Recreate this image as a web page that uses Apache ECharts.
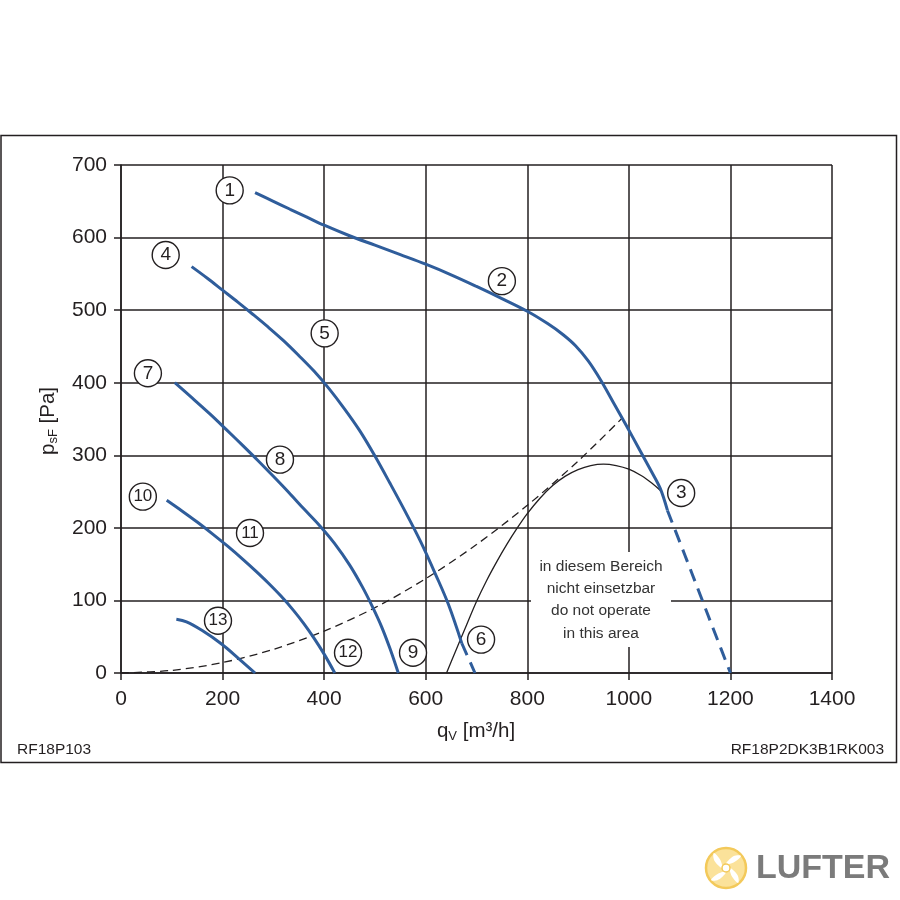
<!DOCTYPE html>
<html>
<head>
<meta charset="utf-8">
<script src="https://cdn.jsdelivr.net/npm/echarts@6/dist/echarts.min.js"></script>
<style>html,body{margin:0;padding:0;background:#fff}#c{width:900px;height:900px}</style>
</head>
<body>
<div id="c"></div>
<script>
// ---- data ----
var xTicks = [0, 200, 400, 600, 800, 1000, 1200, 1400];
var yTicks = [0, 100, 200, 300, 400, 500, 600, 700];

// curve 1-2-3 (solid part)
var c1x = [264, 300, 333, 365, 400, 450, 500, 550, 600, 650, 700, 750, 800, 840, 870, 895, 920, 945, 970, 995, 1020, 1045, 1062, 1076];
var c1y = [662, 650, 639, 628.5, 617, 602.5, 589.5, 576.5, 563.3, 548.7, 532.7, 516, 498.5, 481.5, 466.5, 451, 430, 403, 372, 341, 309, 277, 254, 224];
// curve 3 dashed continuation
var c1dx = [1076, 1110, 1140, 1170, 1200];
var c1dy = [224, 163, 108.5, 54, 0];
// curve 4-5-6
var c4x = [139, 170, 200, 230, 260, 290, 320, 350, 380, 410, 440, 470, 500, 530, 560, 590, 620, 645, 671];
var c4y = [560, 544, 527.5, 511, 494, 476.5, 458, 437.5, 416, 391.5, 364, 334, 299, 261, 222, 181, 135, 94, 41];
var c4dx = [671, 697];
var c4dy = [41, 0];
// curve 7-8-9
var c7x = [106, 140, 175, 208, 240, 270, 300, 330, 360, 390, 420, 450, 475, 495, 513, 530, 546];
var c7y = [400, 379, 357, 335, 313.3, 292.5, 271, 249, 226.2, 204, 179, 149, 119, 91.5, 64, 33, 0];
// curve 10-11-12
var c10x = [90, 120, 150, 180, 210, 240, 265, 290, 315, 340, 360, 380, 400, 421];
var c10y = [238, 223.3, 208, 191.8, 174.7, 156.6, 140.7, 124, 106, 86, 68, 48, 26, 0];
// curve 13
var c13x = [109, 129, 160, 198, 230, 264];
var c13y = [74, 70.5, 58.5, 40, 21, 0];
// system characteristic (dashed black)
var sysX = [0, 100, 200, 300, 400, 500, 600, 700, 800, 900, 988];
var sysY = [0, 3.6, 14.4, 32.5, 57.8, 90, 130, 177, 231, 292, 352];
// operating limit (solid black)
var limX = [641, 660, 680, 700, 720, 740, 760, 780, 800, 825, 850, 875, 900, 925, 950, 975, 1000, 1025, 1045, 1062];
var limY = [0, 32, 65.5, 98.5, 127.5, 153.5, 177.5, 199.5, 219.5, 240.8, 258.3, 271.3, 280.3, 285.8, 287.8, 285.8, 280.8, 271.8, 261.8, 251.6];
// circled point labels
var lblNum = ['1', '2', '3', '4', '5', '6', '7', '8', '9', '10', '11', '12', '13'];
var lblX = [214, 750, 1103, 88, 401, 709, 53, 313, 575, 43, 254, 447, 191];
var lblY = [665, 540, 248, 576, 468, 46, 413, 294, 28, 243, 193, 28, 72];

function pairs(xs, ys) { return xs.map(function (x, i) { return [x, ys[i]]; }); }

var BLUE = '#2f5d9b';
var INK = '#231f20';
var FONT = '"Liberation Sans", Arial, Helvetica, sans-serif';

var chart = echarts.init(document.getElementById('c'), null, {renderer: 'canvas'});

function blue(data, dashed) {
  return {
    type: 'line', data: data, smooth: 0.35, symbol: 'none', z: 3,
    lineStyle: {color: BLUE, width: 3, type: dashed ? [13, 8] : 'solid', cap: 'butt'},
    silent: true, animation: false
  };
}

var bladePts = [[0, -4], [5, -10], [10, -12.5], [15, -12], [10, -7], [5, -4.5]];
function blade(rot) {
  return {type: 'polygon', rotation: rot, shape: {points: bladePts, smooth: 0.4}, style: {fill: '#fff'}};
}

var option = {
  animation: false,
  backgroundColor: '#fff',
  grid: {left: 121, right: 68, top: 165, bottom: 227, containLabel: false},
  xAxis: {
    type: 'value', min: 0, max: 1400, interval: 200,
    axisLine: {show: true, lineStyle: {color: INK, width: 1.5}},
    axisTick: {show: true, length: 7, lineStyle: {color: INK, width: 1.5}},
    axisLabel: {color: INK, fontSize: 21, fontFamily: FONT, margin: 16,
      formatter: function (v) { return xTicks.indexOf(v) >= 0 ? String(v) : ''; }},
    splitLine: {show: true, lineStyle: {color: INK, width: 1.5}}
  },
  yAxis: {
    type: 'value', min: 0, max: 700, interval: 100,
    axisLine: {show: true, lineStyle: {color: INK, width: 1.5}},
    axisTick: {show: true, length: 7, lineStyle: {color: INK, width: 1.5}},
    axisLabel: {color: INK, fontSize: 21, fontFamily: FONT, margin: 14,
      formatter: function (v) { return yTicks.indexOf(v) >= 0 ? String(v) : ''; }},
    splitLine: {show: true, lineStyle: {color: INK, width: 1.5}}
  },
  series: [
    {type: 'line', data: pairs(sysX, sysY), smooth: 0.3, symbol: 'none', z: 2,
      lineStyle: {color: INK, width: 1.3, type: [8, 5]}, silent: true},
    {type: 'line', data: pairs(limX, limY), smooth: 0.35, symbol: 'none', z: 2,
      lineStyle: {color: INK, width: 1.3}, silent: true},
    blue(pairs(c1x, c1y)),
    blue(pairs(c1dx, c1dy), true),
    blue(pairs(c4x, c4y)),
    blue(pairs(c4dx, c4dy), true),
    blue(pairs(c7x, c7y)),
    blue(pairs(c10x, c10y)),
    blue(pairs(c13x, c13y)),
    {type: 'scatter', z: 6, symbol: 'circle', symbolSize: 27, silent: true,
      data: lblX.map(function (x, i) { return {value: [x, lblY[i]], name: lblNum[i]}; }),
      itemStyle: {color: '#fff', borderColor: INK, borderWidth: 1.4, opacity: 1},
      label: {show: true, position: 'inside', color: INK, fontFamily: FONT,
        formatter: function (p) { return p.name.length > 1 ? '{n|' + p.name + '}' : '{w|' + p.name + '}'; },
        rich: {w: {fontSize: 19, fontFamily: FONT, color: INK},
               n: {fontSize: 17, fontFamily: FONT, color: INK}}}}
  ],
  graphic: [
    {type: 'rect', z: 100, silent: true,
      shape: {x: 1, y: 135.5, width: 895.5, height: 627},
      style: {fill: 'none', stroke: INK, lineWidth: 1.5}},
    {type: 'rect', z: 50, silent: true,
      shape: {x: 531, y: 552, width: 140, height: 95},
      style: {fill: '#fff'}},
    {type: 'text', z: 51, silent: true, x: 601, y: 600,
      style: {text: 'in diesem Bereich\nnicht einsetzbar\ndo not operate\nin this area',
        fill: '#333', font: '15.5px ' + FONT, align: 'center', verticalAlign: 'middle', lineHeight: 22.3}},
    {type: 'text', z: 51, silent: true, x: 476, y: 731,
      style: {text: '{p|q}{s|V}{p| [m³/h]}', align: 'center', verticalAlign: 'middle',
        rich: {p: {fontSize: 20.5, fontFamily: FONT, fill: INK, color: INK},
               s: {fontSize: 13, fontFamily: FONT, fill: INK, color: INK, padding: [10, 0, 0, 0]}}}},
    {type: 'text', z: 51, silent: true, x: 48, y: 421, rotation: Math.PI / 2,
      style: {text: '{p|p}{s|sF}{p| [Pa]}', align: 'center', verticalAlign: 'middle',
        rich: {p: {fontSize: 20.5, fontFamily: FONT, fill: INK, color: INK},
               s: {fontSize: 13, fontFamily: FONT, fill: INK, color: INK, padding: [10, 0, 0, 0]}}}},
    {type: 'text', z: 51, silent: true, x: 17, y: 750,
      style: {text: 'RF18P103', fill: INK, font: '15.5px ' + FONT, align: 'left', verticalAlign: 'middle'}},
    {type: 'text', z: 51, silent: true, x: 884, y: 750,
      style: {text: 'RF18P2DK3B1RK003', fill: INK, font: '15.5px ' + FONT, align: 'right', verticalAlign: 'middle'}},
    // logo
    {type: 'group', z: 60, silent: true, x: 726, y: 868, children: [
      {type: 'circle', shape: {cx: 0, cy: 0, r: 20}, style: {fill: '#fbe29a', stroke: '#f3c95a', lineWidth: 2.5}},
      blade(0), blade(Math.PI / 2), blade(Math.PI), blade(-Math.PI / 2),
      {type: 'circle', shape: {cx: 0, cy: 0, r: 4}, style: {fill: '#fff', stroke: '#f3c95a', lineWidth: 1.5}}
    ]},
    {type: 'text', z: 60, silent: true, x: 756, y: 869,
      style: {text: 'LUFTER', fill: '#7b7b7b', font: 'bold 34px ' + FONT, align: 'left', verticalAlign: 'middle'}}
  ]
};
chart.setOption(option);
</script>
</body>
</html>
